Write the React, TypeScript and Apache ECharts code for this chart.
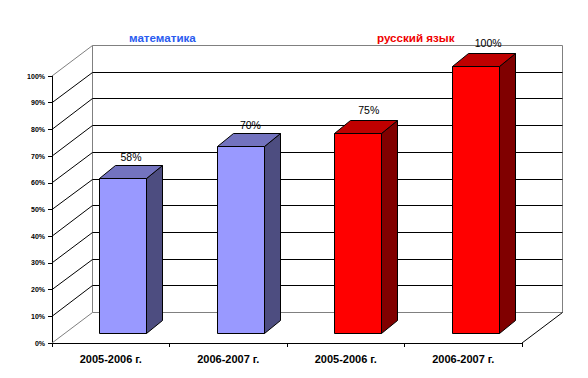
import React, { useEffect, useRef } from "react";
import * as echarts from "echarts";

const categories = ["2005-2006 г.", "2006-2007 г.", "2005-2006 г.", "2006-2007 г."];
const values = [58, 70, 75, 100];
const valueLabels = ["58%", "70%", "75%", "100%"];
const wallTicks = [0, 10, 20, 30, 40, 50, 60, 70, 80, 90, 100];
const groupTitles = ["математика", "русский язык"];

const frontColors = ["#9999FF", "#9999FF", "#FF0000", "#FF0000"];
const topColors = ["#7373BF", "#7373BF", "#BF0000", "#BF0000"];
const sideColors = ["#4D4D80", "#4D4D80", "#800000", "#800000"];

const WALL_DX = 40;
const WALL_DY = -31;
const BAR_DX = 12;
const BAR_DY = -10;
const BAR_W = 47;
const DEPTH_X = 16;
const DEPTH_Y = -13;

const crisp = (v: number) => Math.round(v) + 0.5;

function renderWall(params: any, api: any) {
  const cs = params.coordSys;
  const v = api.value(0);
  const y = api.coord([0, v])[1];
  const left = cs.x;
  const right = cs.x + cs.width;
  const bx = crisp(left + WALL_DX);
  const by = crisp(y + WALL_DY);
  const edge = v === 0 || v === 100;
  const color = edge ? "#808080" : "#000000";
  const children: any[] = [
    { type: "line", shape: { x1: left, y1: y, x2: bx, y2: by }, style: { stroke: color, lineWidth: 1 } },
    { type: "line", shape: { x1: bx, y1: by, x2: crisp(right + WALL_DX), y2: by }, style: { stroke: color, lineWidth: 1 } },
  ];
  if (v === 0) {
    const top = api.coord([0, 100])[1] + WALL_DY;
    children.push(
      { type: "line", shape: { x1: bx, y1: by, x2: bx, y2: crisp(top) }, style: { stroke: "#808080", lineWidth: 1 } },
      { type: "line", shape: { x1: crisp(right + WALL_DX), y1: by, x2: crisp(right + WALL_DX), y2: crisp(top) }, style: { stroke: "#808080", lineWidth: 1 } },
      { type: "line", shape: { x1: right, y1: y, x2: crisp(right + WALL_DX), y2: by }, style: { stroke: "#000000", lineWidth: 1 } },
    );
  }
  return { type: "group", children };
}

function renderBar(params: any, api: any) {
  const i = params.dataIndex;
  const top = api.coord([api.value(0), api.value(1)]);
  const base = api.coord([api.value(0), 0]);
  const x0 = crisp(top[0] + BAR_DX - BAR_W / 2);
  const x1 = x0 + BAR_W;
  const y0 = crisp(top[1] + BAR_DY);
  const y1 = crisp(base[1] + BAR_DY);
  const stroke = { stroke: "#000000", lineWidth: 1 };
  return {
    type: "group",
    children: [
      {
        type: "polygon",
        shape: { points: [[x1, y0], [x1 + DEPTH_X, y0 + DEPTH_Y], [x1 + DEPTH_X, y1 + DEPTH_Y], [x1, y1]] },
        style: { fill: sideColors[i], ...stroke },
      },
      {
        type: "polygon",
        shape: { points: [[x0, y0], [x0 + DEPTH_X, y0 + DEPTH_Y], [x1 + DEPTH_X, y0 + DEPTH_Y], [x1, y0]] },
        style: { fill: topColors[i], ...stroke },
      },
      { type: "rect", shape: { x: x0, y: y0, width: BAR_W, height: y1 - y0 }, style: { fill: frontColors[i], ...stroke } },
      {
        type: "text",
        style: {
          x: (x0 + x1) / 2 + 8 + 1.4 * i,
          y: y0 + DEPTH_Y - (i < 2 ? 9 : 11),
          text: valueLabels[i],
          fill: "#000000",
          font: "10.5px 'Liberation Sans', Arial, sans-serif",
          align: "center",
          verticalAlign: "middle",
        },
      },
    ],
  };
}

export default function App() {
  const ref = useRef<HTMLDivElement>(null);
  useEffect(() => {
    document.body.style.margin = "0";
    const chart = echarts.init(ref.current!, undefined, { renderer: "svg" });
    chart.setOption({
      animation: false,
      backgroundColor: "#ffffff",
      grid: { left: 52, top: 76, width: 470, height: 267, containLabel: false },
      xAxis: {
        type: "category",
        data: categories,
        boundaryGap: true,
        axisLine: { show: true, lineStyle: { color: "#000000", width: 1 } },
        axisTick: { show: true, length: 4, lineStyle: { color: "#000000" }, alignWithLabel: false },
        axisLabel: {
          color: "#000000",
          fontFamily: "'Liberation Sans', Arial, sans-serif",
          fontSize: 11,
          fontWeight: "bold",
          margin: 10,
          interval: 0,
        },
        splitLine: { show: false },
      },
      yAxis: {
        type: "value",
        min: 0,
        max: 100,
        interval: 10,
        axisLine: { show: true, lineStyle: { color: "#000000", width: 1 } },
        axisTick: { show: true, length: 4, lineStyle: { color: "#000000" } },
        axisLabel: {
          color: "#000000",
          fontFamily: "'Liberation Sans', Arial, sans-serif",
          fontSize: 7,
          fontWeight: "bold",
          margin: 7,
          formatter: "{value}%",
        },
        splitLine: { show: false },
      },
      graphic: [
        {
          type: "text",
          x: 129,
          y: 31,
          style: { text: groupTitles[0], fill: "#2A5CF0", font: "bold 11.6px 'Liberation Sans', Arial, sans-serif" },
        },
        {
          type: "text",
          x: 377,
          y: 31,
          style: { text: groupTitles[1], fill: "#F00000", font: "bold 11.6px 'Liberation Sans', Arial, sans-serif" },
        },
      ],
      series: [
        {
          type: "custom",
          name: "walls",
          renderItem: renderWall,
          data: wallTicks.map((v) => [v]),
          encode: { y: 0 },
          silent: true,
          clip: false,
          z: 1,
        },
        {
          type: "custom",
          name: "bars",
          renderItem: renderBar,
          data: values.map((v, i) => [i, v]),
          encode: { x: 0, y: 1 },
          clip: false,
          z: 2,
        },
      ],
    });
    return () => chart.dispose();
  }, []);
  return <div ref={ref} style={{ width: 588, height: 378, position: "absolute", left: 0, top: 0 }} />;
}
